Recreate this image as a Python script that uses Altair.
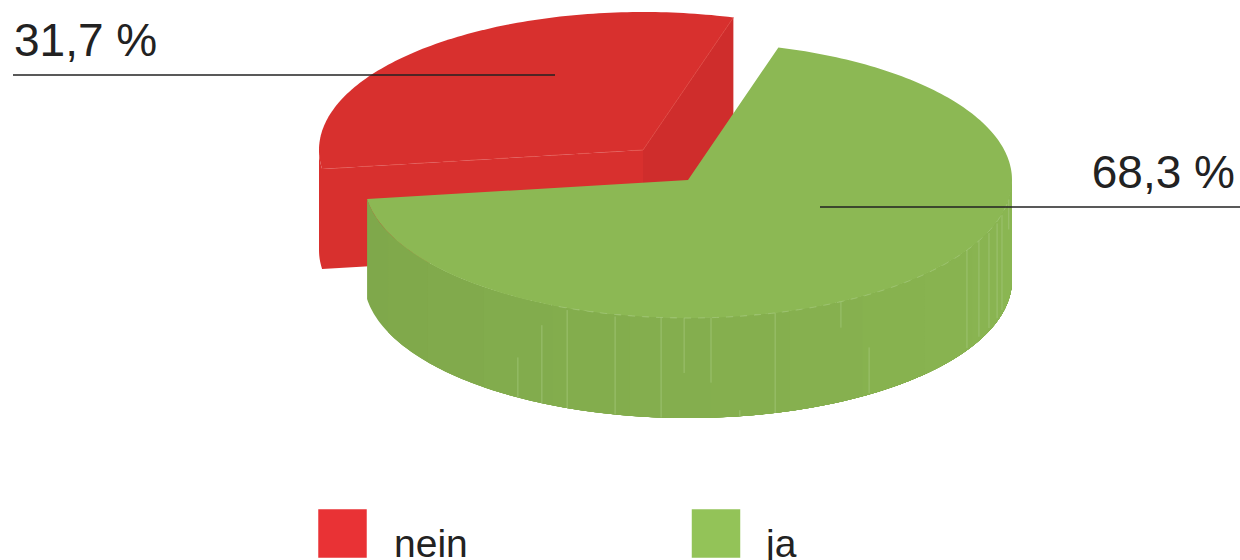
import math
import altair as alt

# Survey result
series = ["nein", "ja"]
shares = [31.7, 68.3]

# Colours
top_colors = {"nein": "#d8302e", "ja": "#8cb854"}
key_colors = {"nein": "#e93235", "ja": "#93c358"}
red_cut_color = "#cf2d2c"
wall_shades = [
    "#7fa84b", "#80a94b", "#81aa4c", "#82ac4d", "#83ad4d", "#84ae4e", "#85af4e",
    "#86b04f", "#87b24f", "#88b350", "#89b451", "#8ab652",
]
seam_green = "#a2c678"
seam_red = "#e4574f"
seam_red_faint = "#dc3f38"

# Drawing of the tilted disc, in units of the disc radius
TILT = 138 / 324
DEPTH = 100 / 324
START_DEG = 16.2
RADIUS_PX = 324
CENTRE_PX = (688, 180)
EXPLODE = (-45 / 324, 30 / 324)

# Cracks on the green wall: horizontal position, then start and end as a part of the depth
wall_seams = [
    (-0.525, 0.60, 1.00), (-0.451, 0.22, 1.00), (-0.373, 0.02, 1.00),
    (-0.225, 0.02, 1.00), (-0.083, 0.00, 1.00), (-0.012, 0.00, 0.55),
    (0.071, 0.00, 0.65), (0.160, 0.94, 1.00), (0.269, 0.00, 1.00),
    (0.472, 0.00, 0.26), (0.559, 0.53, 0.99), (0.861, 0.00, 0.98),
    (0.898, 0.00, 0.96), (0.929, 0.02, 0.97), (0.954, 0.02, 0.97),
    (0.969, 0.01, 0.96), (0.990, 0.00, 0.30),
]


def rim(deg, off=(0.0, 0.0), drop=0.0):
    """Point on the rim, deg clockwise from the back of the disc."""
    a = math.radians(deg)
    return [math.sin(a) + off[0], TILT * math.cos(a) + off[1] - drop]


def arc(a0, a1, off=(0.0, 0.0), drop=0.0):
    n = max(2, int(abs(a1 - a0)) + 1)
    return [rim(a0 + (a1 - a0) * i / (n - 1), off, drop) for i in range(n)]


def polygon(points, fill):
    return {
        "type": "Feature",
        "properties": {"fill": fill},
        "geometry": {"type": "Polygon", "coordinates": [points + [points[0]]]},
    }


def line(points, stroke):
    return {
        "type": "Feature",
        "properties": {"stroke": stroke},
        "geometry": {"type": "LineString", "coordinates": points},
    }


def wall(a0, a1, fill, off=(0.0, 0.0)):
    upper = arc(a0, a1, off)
    lower = arc(a1, a0, off, DEPTH)
    return polygon(upper + lower, fill)


def drop_pt(p, d):
    return [p[0], p[1] - d]


green_start = START_DEG
green_end = green_start + shares[1] * 3.6
red_end = green_end + shares[0] * 3.6
apex = [EXPLODE[0], EXPLODE[1]]
red_a = rim(green_end, EXPLODE)
red_b = rim(red_end, EXPLODE)

# The short stretch of outer wall round the far left is kept above the cut face
red_left = arc(green_end, 270, EXPLODE)
red_shapes = [
    polygon(
        [apex] + red_left + [drop_pt(p, DEPTH) for p in reversed(red_left)] + [drop_pt(apex, DEPTH)],
        top_colors["nein"],
    ),
    polygon([apex, red_b, drop_pt(red_b, DEPTH), drop_pt(apex, DEPTH)], red_cut_color),
    polygon([apex] + arc(green_end, red_end, EXPLODE), top_colors["nein"]),
]
red_edge = [line([apex, red_a], seam_red)]
red_fold = [line([apex, red_b], seam_red_faint)]

# Each wall band runs on to the right end, so the next one paints over it without a gap
step = (green_end - 90) / len(wall_shades)
green_shapes = [
    wall(green_end - i * step, 90, shade) for i, shade in enumerate(wall_shades)
]
green_shapes.append(polygon([[0.0, 0.0]] + arc(green_start, green_end), top_colors["ja"]))

crack_lines = []
for u, t0, t1 in wall_seams:
    edge = TILT * math.sqrt(1 - u * u)
    crack_lines.append(line([[u, -edge - t0 * DEPTH], [u, -edge - t1 * DEPTH]], seam_green))
rim_line = [line(arc(100, 205), seam_green)]

projection = alt.Projection(
    type="identity", scale=RADIUS_PX, translate=list(CENTRE_PX), reflectY=True
)


def shapes(features):
    return alt.Chart(alt.Data(values=features)).mark_geoshape(strokeWidth=0).encode(
        fill=alt.Fill("properties.fill:N", scale=None)
    ).project(**projection.to_dict())


def lines(features, dash=None):
    options = {"filled": False}
    if dash:
        options["strokeDash"] = dash
    return alt.Chart(alt.Data(values=features)).mark_geoshape(**options).encode(
        stroke=alt.Stroke("properties.stroke:N", scale=None),
        strokeWidth=alt.value(0.8),
    ).project(**projection.to_dict())


# Callouts and key, placed per answer
callouts = {
    "nein": dict(x0=13, x1=555, rule_y=75, text_x=14, text_y=56, align="left"),
    "ja": dict(x0=820, x1=1240, rule_y=207, text_x=1235, text_y=188, align="right"),
}
key = {
    "nein": dict(x=342.5, label_x=394),
    "ja": dict(x=716, label_x=766),
}

FONT = "Liberation Sans"
layers = [
    shapes(red_shapes),
    lines(red_edge, [11, 16]),
    lines(red_fold),
    shapes(green_shapes),
    lines(crack_lines),
    lines(rim_line, [7, 7]),
]

for name, share in zip(series, shares):
    c = callouts[name]
    k = key[name]
    row = alt.Data(values=[{
        "series": name,
        "label": f"{share:.1f}".replace(".", ",") + " %",
    }])
    layers.append(alt.Chart(row).mark_rule(color="#222222", strokeWidth=1.5).encode(
        x=alt.value(c["x0"]), x2=alt.value(c["x1"]), y=alt.value(c["rule_y"])
    ))
    layers.append(alt.Chart(row).mark_text(
        font=FONT, fontSize=46, color="#222222", align=c["align"], baseline="alphabetic"
    ).encode(x=alt.value(c["text_x"]), y=alt.value(c["text_y"]), text="label:N"))
    layers.append(alt.Chart(row).mark_point(
        shape="square", filled=True, size=2350, opacity=1, color=key_colors[name]
    ).encode(x=alt.value(k["x"]), y=alt.value(533.5)))
    layers.append(alt.Chart(row).mark_text(
        font=FONT, fontSize=39, color="#222222", align="left", baseline="alphabetic"
    ).encode(x=alt.value(k["label_x"]), y=alt.value(557), text="series:N"))

chart = alt.layer(*layers).properties(
    width=1240,
    height=560,
    padding=0,
    background="white",
    autosize=alt.AutoSizeParams(type="none"),
).configure_view(stroke=None)

chart.save("out.html", embed_options={"renderer": "svg", "actions": False})
